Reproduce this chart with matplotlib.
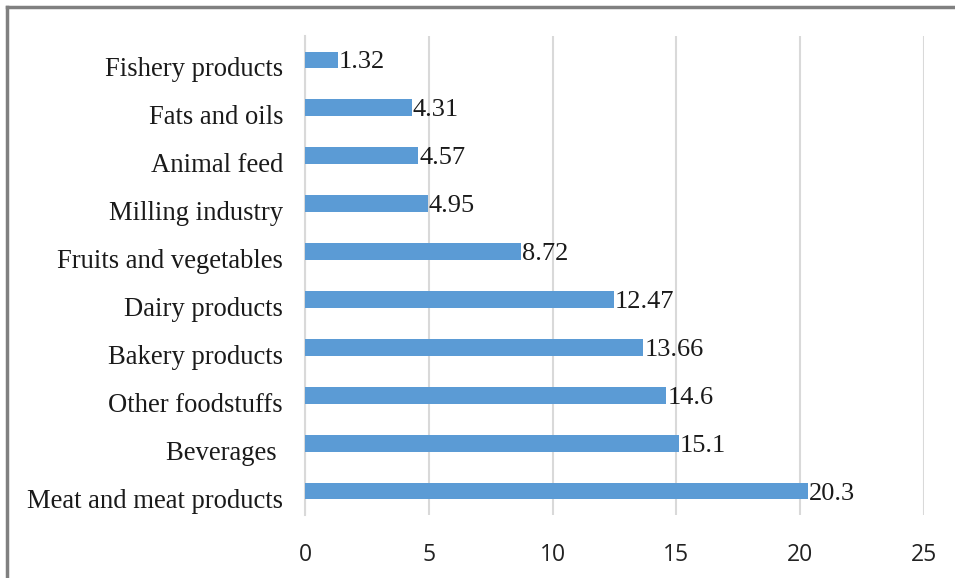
import matplotlib
matplotlib.use('Agg')
import matplotlib.pyplot as plt
from matplotlib.lines import Line2D
import matplotlib.transforms as mtransforms

categories = ['Meat and meat products', 'Beverages ', 'Other foodstuffs', 'Bakery products',
              'Dairy products', 'Fruits and vegetables', 'Milling industry', 'Animal feed',
              'Fats and oils', 'Fishery products']
values = [20.3, 15.1, 14.6, 13.66, 12.47, 8.72, 4.95, 4.57, 4.31, 1.32]
value_labels = ['20.3', '15.1', '14.6', '13.66', '12.47', '8.72', '4.95', '4.57', '4.31', '1.32']
xticks = [0, 5, 10, 15, 20, 25]

serif = ['Liberation Serif', 'DejaVu Serif']
sans = ['Open Sans', 'DejaVu Sans']

fig = plt.figure(figsize=(9.55, 5.78), dpi=100)
ax = fig.add_axes([0.3194, 0.109, 0.6481, 0.8287])

y = list(range(len(categories)))
bars = ax.barh(y, values, height=0.35, color='#5b9bd5', zorder=3)

# value labels: baseline a bit below the bar centre
val_off = mtransforms.ScaledTranslation(0, -8.5 / 100, fig.dpi_scale_trans)
for b, lab in zip(bars, value_labels):
    ax.text(b.get_width() + 0.05, b.get_y() + b.get_height() / 2, lab,
            va='baseline', ha='left', fontsize=19, family=serif, color='#1a1a1a',
            zorder=4, transform=ax.transData + val_off)

# category labels sit lower than the bars, as in the original
cat_trans = mtransforms.blended_transform_factory(ax.transAxes, ax.transData)
cat_off = mtransforms.ScaledTranslation(0, -16.5 / 100, fig.dpi_scale_trans)
for yi, c in zip(y, categories):
    ax.text(-0.0355, yi, c, ha='right', va='baseline', fontsize=19.2, family=serif,
            color='#1a1a1a', transform=cat_trans + cat_off)

ax.set_xlim(0, 25)
ax.set_ylim(-0.5, len(categories) - 0.5)
ax.set_xticks(xticks)
ax.set_xticklabels([str(t) for t in xticks], family=sans, fontsize=16.5, color='#222222')
ax.set_yticks([])
ax.tick_params(axis='x', length=0, pad=20)
ax.grid(axis='x', color='#d9d9d9', linewidth=1.5, zorder=0)
for s in ['top', 'right', 'bottom']:
    ax.spines[s].set_visible(False)
ax.spines['left'].set_color('#d9d9d9')
ax.spines['left'].set_linewidth(1.5)

# outer frame (top and left edges only)
fig.add_artist(Line2D([0.0073, 1.0], [0.9884, 0.9884], color='#808080', linewidth=2.5, transform=fig.transFigure))
fig.add_artist(Line2D([0.0073, 0.0073], [0.0, 0.9884], color='#808080', linewidth=2.5, transform=fig.transFigure))

fig.savefig('out.png', dpi=100, facecolor='white')
